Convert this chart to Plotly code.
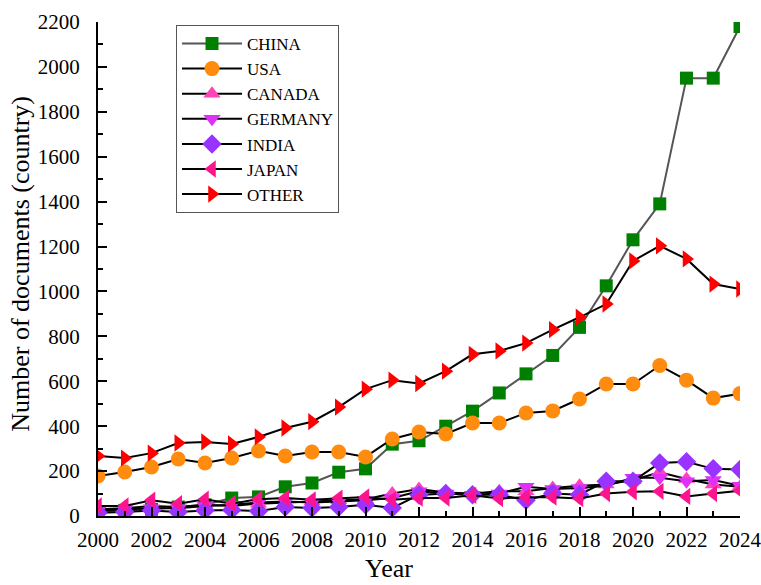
import plotly.graph_objects as go

YEARS = list(range(2000, 2025))
CHINA = [20, 25, 30, 40, 50, 80, 85, 130, 147, 195, 210, 320, 335, 400, 467, 548, 633, 715, 840, 1025, 1230, 1390, 1950, 1950, 2180]
USA = [178, 196, 218, 254, 236, 258, 290, 267, 285, 285, 263, 343, 374, 365, 414, 414, 459, 468, 521, 588, 588, 670, 605, 525, 545]
CANADA = [30, 35, 45, 40, 50, 45, 55, 60, 65, 70, 75, 100, 120, 105, 100, 110, 110, 125, 135, 140, 160, 195, 165, 140, 130]
GERMANY = [25, 30, 35, 35, 45, 50, 60, 65, 60, 65, 70, 80, 110, 100, 95, 100, 130, 120, 125, 135, 170, 170, 155, 160, 135]
INDIA = [15, 18, 25, 18, 25, 27, 22, 40, 36, 40, 50, 36, 94, 100, 95, 95, 70, 100, 95, 155, 155, 236, 242, 210, 207]
JAPAN = [45, 45, 70, 55, 75, 55, 75, 80, 72, 80, 85, 72, 80, 80, 92, 78, 84, 84, 78, 100, 108, 110, 87, 100, 112]
OTHER = [267, 258, 280, 325, 330, 321, 352, 392, 420, 485, 565, 605, 590, 645, 720, 735, 770, 830, 885, 944, 1136, 1203, 1145, 1033, 1011]

SERIES = [
    ("CHINA", CHINA, "square", "#008000", "#555555", 13),
    ("USA", USA, "circle", "#FF8C0F", "#000000", 15),
    ("CANADA", CANADA, "triangle-up", "#FF44B8", "#000000", 15),
    ("GERMANY", GERMANY, "triangle-down", "#E030F8", "#000000", 15),
    ("INDIA", INDIA, "diamond", "#9933FF", "#000000", 15),
    ("JAPAN", JAPAN, "triangle-left", "#FF1490", "#000000", 15),
    ("OTHER", OTHER, "triangle-right", "#FF0000", "#000000", 15),
]

fig = go.Figure()
for name, vals, sym, mcol, lcol, msize in SERIES:
    fig.add_trace(go.Scatter(
        x=YEARS, y=vals, name=name, mode="lines+markers",
        line=dict(color=lcol, width=2),
        marker=dict(symbol=sym, color=mcol, size=msize, line=dict(width=0)),
    ))

font = "Liberation Serif, Times New Roman, serif"
fig.update_layout(
    width=761, height=585,
    margin=dict(l=98, r=21, t=22, b=69, autoexpand=False),
    paper_bgcolor="white", plot_bgcolor="white",
    font=dict(family=font, size=21, color="#000"),
    showlegend=True,
    legend=dict(
        x=0.1215, y=0.994, xanchor="left", yanchor="top",
        bordercolor="#555555", borderwidth=1, bgcolor="white",
        font=dict(family=font, size=17, color="#000"),
        tracegroupgap=0, itemwidth=60,
    ),
    xaxis=dict(
        range=[2000, 2024], tickmode="linear", tick0=2000, dtick=2,
        showline=True, linecolor="#000", linewidth=2, mirror=False,
        ticks="inside", ticklen=9, tickwidth=2, tickcolor="#000",
        minor=dict(ticks="inside", ticklen=5, tickwidth=2, dtick=1, tickcolor="#000"),
        showgrid=False, zeroline=False, automargin=False,
        tickfont=dict(family=font, size=21), ticklabelstandoff=4,
        ticklabeloverflow="allow",
    ),
    yaxis=dict(
        range=[0, 2200], tickmode="linear", tick0=0, dtick=200,
        showline=True, linecolor="#000", linewidth=2, mirror=False,
        ticks="inside", ticklen=9, tickwidth=2, tickcolor="#000",
        minor=dict(ticks="inside", ticklen=5, tickwidth=2, dtick=100, tickcolor="#000"),
        showgrid=False, zeroline=False, automargin=False,
        tickfont=dict(family=font, size=21), ticklabelstandoff=12,
        ticklabeloverflow="allow",
    ),
    annotations=[
        dict(text="Year", xref="paper", yref="paper", x=0.453, y=-0.106,
             xanchor="center", yanchor="middle", showarrow=False,
             font=dict(family=font, size=26)),
        dict(text="Number of documents (country)", xref="paper", yref="paper",
             x=-0.122, y=0.51, xanchor="center", yanchor="middle", textangle=-90,
             showarrow=False, font=dict(family=font, size=26)),
    ],
)

fig.write_html("out.html")
